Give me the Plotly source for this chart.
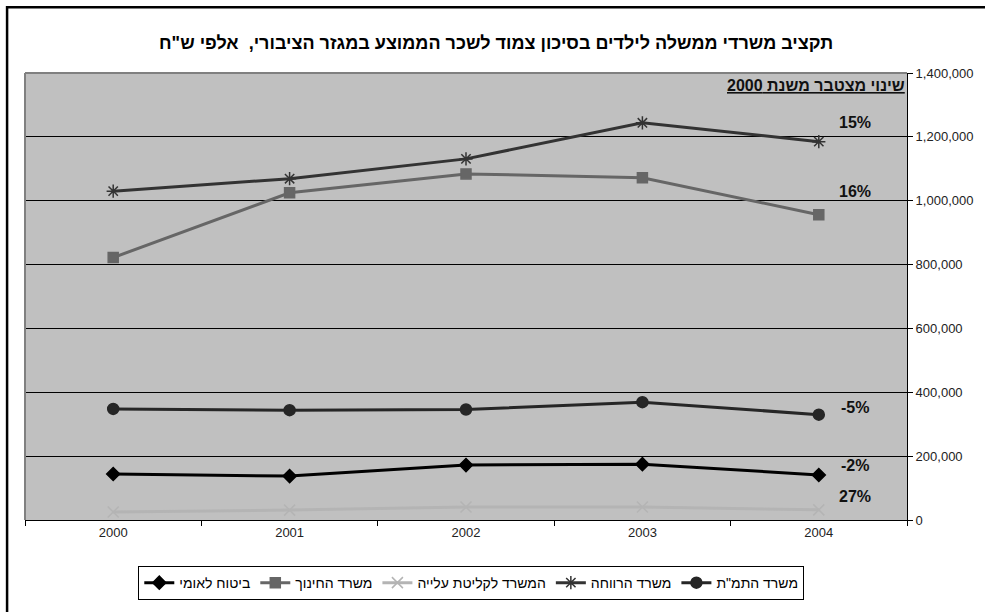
import plotly.graph_objects as go

# Years on the category axis
years = ["2000", "2001", "2002", "2003", "2004"]

# Budget per ministry, thousands of NIS (adjusted to public-sector average wage)
bituach_leumi = [144000, 137500, 172000, 175000, 141000]
misrad_hachinuch = [822000, 1025000, 1084000, 1072000, 956000]
klitat_aliya = [25000, 31000, 40500, 40500, 31750]
misrad_harevacha = [1030000, 1069000, 1131000, 1244000, 1185000]
misrad_hatamat = [348000, 344000, 346000, 369000, 330000]

series_names = ["ביטוח לאומי", "משרד החינוך", "המשרד לקליטת עלייה", "משרד הרווחה", 'משרד התמ"ת']
series_values = [bituach_leumi, misrad_hachinuch, klitat_aliya, misrad_harevacha, misrad_hatamat]

title_text = 'תקציב משרדי ממשלה לילדים בסיכון צמוד לשכר הממוצע במגזר הציבורי,  אלפי ש"ח'
change_title = "שינוי מצטבר משנת 2000"

y_ticks = [0, 200000, 400000, 600000, 800000, 1000000, 1200000, 1400000]

styles = [
    dict(color="#000000", symbol="diamond", size=10),
    dict(color="#666666", symbol="square", size=10),
    dict(color="#b4b4b4", symbol="x-thin-open", size=11),
    dict(color="#333333", symbol="asterisk-open", size=11),
    dict(color="#262626", symbol="circle", size=11),
]
# vertical offset (px) of each cumulative-change label above the last point
label_shift = [9, 23, 13, 19, 7]

FONT = "Liberation Sans, Arial, sans-serif"

fig = go.Figure()
for name, vals, st in zip(series_names, series_values, styles):
    fig.add_trace(go.Scatter(
        x=years, y=vals, name=name, mode="lines+markers",
        line=dict(color=st["color"], width=3),
        marker=dict(symbol=st["symbol"], size=st["size"], color=st["color"],
                    line=dict(color=st["color"], width=1.5)),
    ))

annotations = []
last_pos = len(years) - 1
for vals, shift in zip(series_values, label_shift):
    pct = round((vals[-1] / vals[0] - 1) * 100)
    annotations.append(dict(
        x=last_pos, y=vals[-1], xref="x", yref="y",
        text=f"<b>{pct}%</b>", showarrow=False,
        xshift=36, yshift=shift, xanchor="center", yanchor="middle",
        font=dict(family=FONT, size=16, color="#111111"),
    ))

annotations.append(dict(
    x=1.0, y=0.971, xref="paper", yref="paper",
    text=f"<b><span style='text-decoration:underline'>{change_title}</span></b>",
    showarrow=False, xanchor="right", yanchor="middle",
    font=dict(family=FONT, size=16, color="#111111"),
))

annotations.append(dict(
    x=(498 - 25) / 886, y=(521 - 43) / 448, xref="paper", yref="paper",
    text=f"<b>{title_text}</b>", showarrow=False,
    xanchor="center", yanchor="middle",
    font=dict(family=FONT, size=18, color="#000000"),
))

fig.update_layout(
    width=985, height=612,
    margin=dict(l=25, r=74, t=73, b=91),
    paper_bgcolor="#ffffff",
    plot_bgcolor="#c0c0c0",
    showlegend=True,
    legend=dict(
        orientation="h", x=0.506, xanchor="center", y=-0.103, yanchor="top",
        bordercolor="#000000", borderwidth=1, bgcolor="#ffffff",
        font=dict(family=FONT, size=14, color="#000000"),
        itemwidth=30, tracegroupgap=0,
    ),
    xaxis=dict(
        type="category", categoryorder="array", categoryarray=years,
        range=[-0.5, 4.5],
        showgrid=False, zeroline=False,
        showline=True, linecolor="#000000", linewidth=1,
        ticks="outside", ticklen=5, tickcolor="#000000", tickson="boundaries",
        tickfont=dict(family=FONT, size=13, color="#222222"),
    ),
    yaxis=dict(
        side="right", range=[0, 1400000], tickvals=y_ticks,
        tickformat=",d",
        showgrid=True, gridcolor="#000000", gridwidth=1,
        zeroline=False,
        showline=True, linecolor="#000000", linewidth=1,
        ticks="outside", ticklen=5, tickcolor="#000000",
        tickfont=dict(family=FONT, size=13, color="#222222"),
    ),
    annotations=annotations,
    shapes=[
        # gray outline of the plotting area (top and left)
        dict(type="line", xref="paper", yref="paper", x0=0, x1=1, y0=1, y1=1,
             line=dict(color="#808080", width=2), layer="above"),
        dict(type="line", xref="paper", yref="paper", x0=0, x1=0, y0=0, y1=1,
             line=dict(color="#808080", width=2), layer="above"),
        # outer frame of the chart
        dict(type="rect", xref="paper", yref="paper",
             x0=(7 - 25) / 886, x1=(1040 - 25) / 886,
             y0=(521 - 660) / 448, y1=(521 - 7) / 448,
             line=dict(color="#000000", width=2.5), layer="above"),
    ],
)

fig.write_html("out.html")
